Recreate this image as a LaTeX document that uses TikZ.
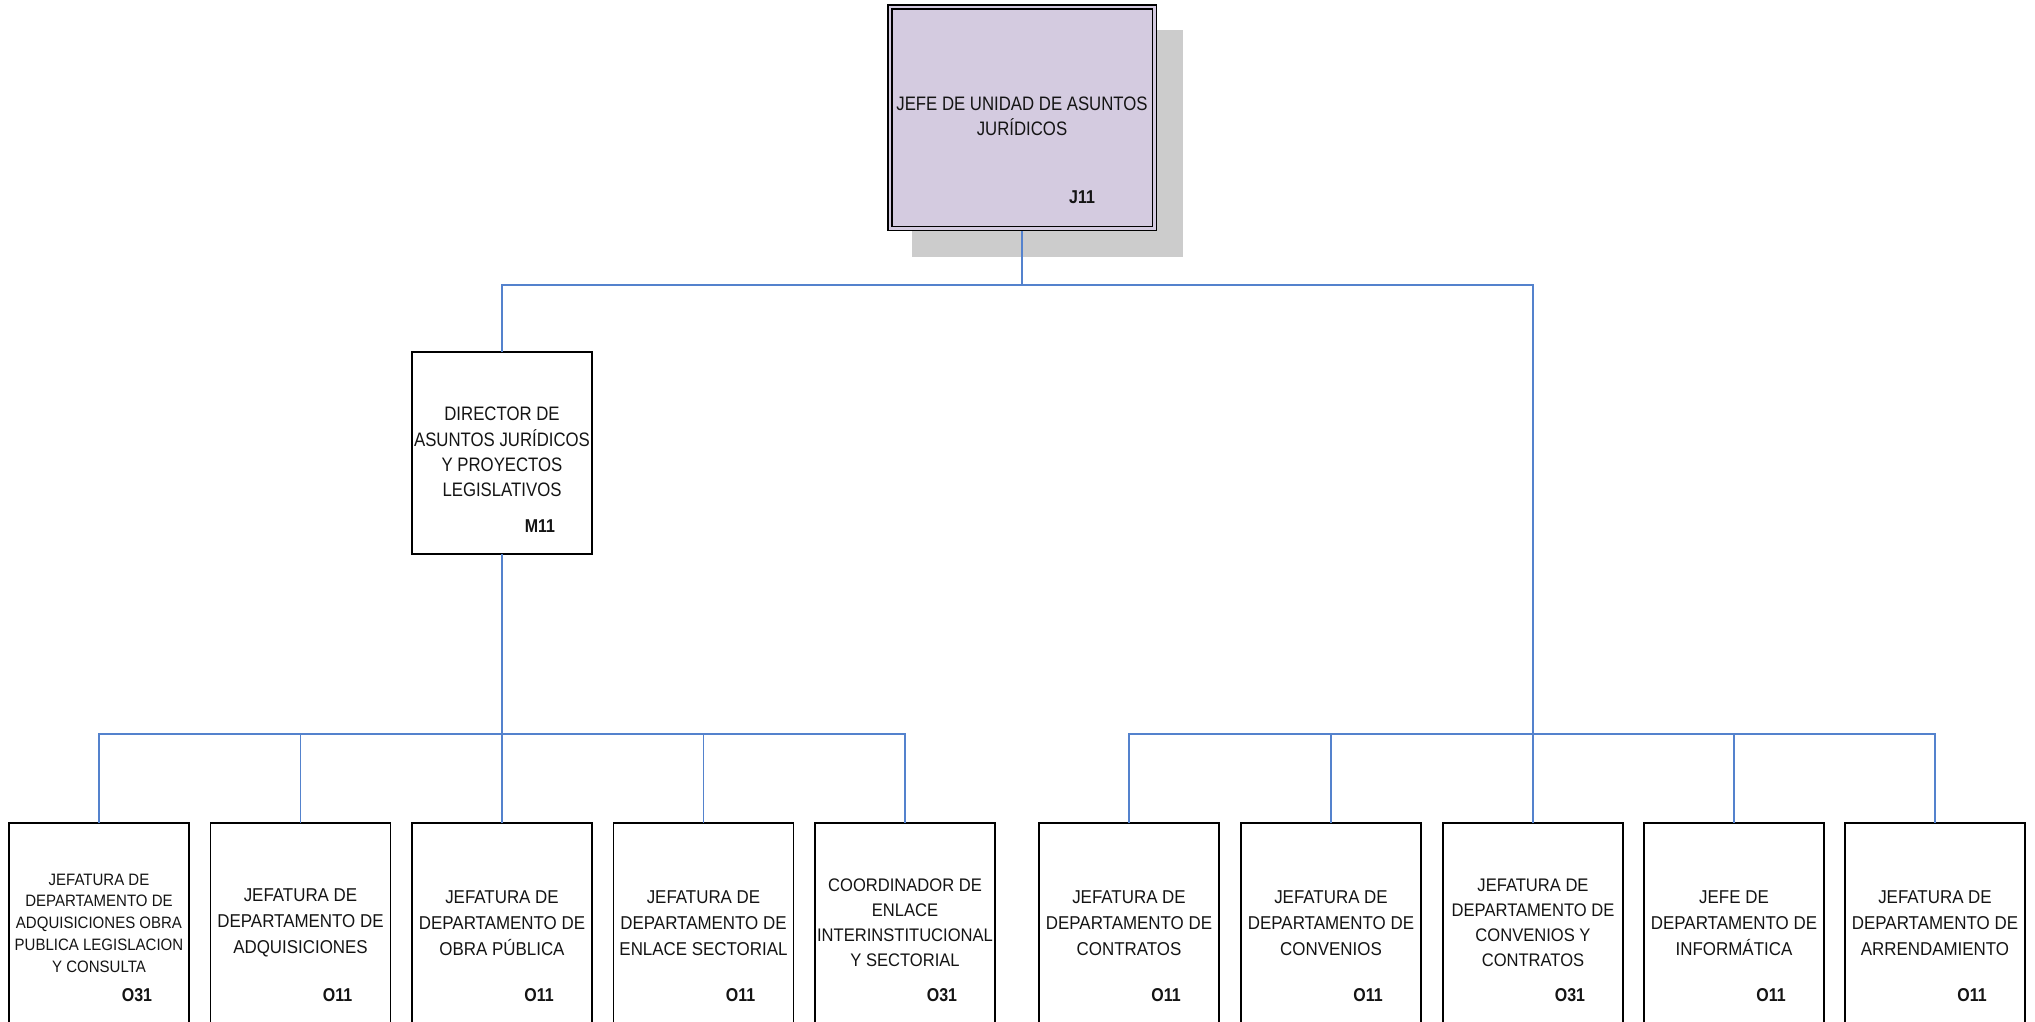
\documentclass[tikz,border=0pt]{standalone}
\usepackage{fontspec}
\setmainfont[FakeStretch=0.86]{Liberation Sans}
\newfontfamily\widefont[FakeStretch=0.91]{Liberation Sans}
\usetikzlibrary{shadows}
\definecolor{linkblue}{RGB}{84,130,205}
\definecolor{topfill}{RGB}{212,203,224}
\definecolor{shadowgray}{RGB}{204,204,204}
\definecolor{txt}{RGB}{20,20,20}
\begin{document}
\begin{tikzpicture}[x=1pt,y=-1pt,
  box/.style={draw=black, line width=1.8pt, fill=white, minimum width=180pt, minimum height=202pt, inner sep=0pt, outer sep=0pt},
  bbox/.style={box, minimum height=240pt, anchor=north},
  link/.style={draw=linkblue, line width=1.6pt},
  lbl/.style={align=center, inner sep=0pt, text=txt, font=\widefont\fontsize{18.6}{26}\selectfont},
  smalllbl/.style={lbl, font=\widefont\fontsize{16.5}{21.7}\selectfont},
  midlbl/.style={lbl, font=\widefont\fontsize{18.2}{25}\selectfont},
  biglbl/.style={lbl, font=\fontsize{19.5}{25.2}\selectfont},
  code/.style={inner sep=0pt, text=txt, font=\bfseries\fontsize{18.6}{22}\selectfont}]
\useasboundingbox (0,0) rectangle (2035,1021);
\clip (0,0) rectangle (2035,1021);
\fill[white] (0,0) rectangle (2035,1021);

% top box
\node[draw=black, line width=1.5pt, double=topfill, double distance=2.5pt, fill=topfill,
  minimum width=264.5pt, minimum height=221.5pt, inner sep=0pt, outer sep=2.75pt,
  drop shadow={shadow xshift=25pt, shadow yshift=-25pt, shadow scale=1.025, opacity=1, fill=shadowgray}]
  (top) at (1022,117.5) {};
\node[biglbl] (topt) at (1022,116) {JEFE DE UNIDAD DE ASUNTOS\\JURÍDICOS};
\node[code] (topc) at (1082,197) {J11};

% director
\node[box] (dir) at (502,453) {};
\node[biglbl] (dirt) at (502,452) {DIRECTOR DE\\ASUNTOS JURÍDICOS\\Y PROYECTOS\\LEGISLATIVOS};
\node[code] (dirc) at (540,526) {M11};

% bottom left group
\node[bbox] (L1) at (99,823) {};
\node[bbox] (L2) at (300.5,823) {};
\node[bbox] (L3) at (502,823) {};
\node[bbox] (L4) at (703.5,823) {};
\node[bbox] (L5) at (905,823) {};
% bottom right group
\node[bbox] (R1) at (1129,823) {};
\node[bbox] (R2) at (1331,823) {};
\node[bbox] (R3) at (1533,823) {};
\node[bbox] (R4) at (1734,823) {};
\node[bbox] (R5) at (1935,823) {};

\node[smalllbl] (L1t) at ([shift={(0,100)}]L1.north) {JEFATURA DE\\DEPARTAMENTO DE\\ADQUISICIONES OBRA\\PUBLICA LEGISLACION\\Y CONSULTA};
\node[lbl] (L2t) at ([shift={(0,100)}]L2.north) {JEFATURA DE\\DEPARTAMENTO DE\\ADQUISICIONES};
\node[lbl] (L3t) at ([shift={(0,100)}]L3.north) {JEFATURA DE\\DEPARTAMENTO DE\\OBRA PÚBLICA};
\node[lbl] (L4t) at ([shift={(0,100)}]L4.north) {JEFATURA DE\\DEPARTAMENTO DE\\ENLACE SECTORIAL};
\node[midlbl] (L5t) at ([shift={(0,99.5)}]L5.north) {COORDINADOR DE\\ENLACE\\INTERINSTITUCIONAL\\Y SECTORIAL};
\node[lbl] (R1t) at ([shift={(0,100)}]R1.north) {JEFATURA DE\\DEPARTAMENTO DE\\CONTRATOS};
\node[lbl] (R2t) at ([shift={(0,100)}]R2.north) {JEFATURA DE\\DEPARTAMENTO DE\\CONVENIOS};
\node[midlbl] (R3t) at ([shift={(0,99.5)}]R3.north) {JEFATURA DE\\DEPARTAMENTO DE\\CONVENIOS Y\\CONTRATOS};
\node[lbl] (R4t) at ([shift={(0,100)}]R4.north) {JEFE DE\\DEPARTAMENTO DE\\INFORMÁTICA};
\node[lbl] (R5t) at ([shift={(0,100)}]R5.north) {JEFATURA DE\\DEPARTAMENTO DE\\ARRENDAMIENTO};

\node[code] (L1c) at ([shift={(38,172)}]L1.north) {O31};
\node[code] (L2c) at ([shift={(37,172)}]L2.north) {O11};
\node[code] (L3c) at ([shift={(37,172)}]L3.north) {O11};
\node[code] (L4c) at ([shift={(37,172)}]L4.north) {O11};
\node[code] (L5c) at ([shift={(37,172)}]L5.north) {O31};
\node[code] (R1c) at ([shift={(37,172)}]R1.north) {O11};
\node[code] (R2c) at ([shift={(37,172)}]R2.north) {O11};
\node[code] (R3c) at ([shift={(37,172)}]R3.north) {O31};
\node[code] (R4c) at ([shift={(37,172)}]R4.north) {O11};
\node[code] (R5c) at ([shift={(37,172)}]R5.north) {O11};

% connectors
\coordinate (bus1) at (0,285);
\coordinate (bus2) at (0,734);
\draw[link] (top.south) -- (top.south |- bus1);
\draw[link] (dir.north) -- (dir.north |- bus1) -- (R3.north |- bus1) -- (R3.north);
\draw[link] (dir.south) -- (L3.north);
\draw[link] (L1.north) -- (L1.north |- bus2) -- (L5.north |- bus2) -- (L5.north);
\draw[link] (L2.north) -- (L2.north |- bus2);
\draw[link] (L4.north) -- (L4.north |- bus2);
\draw[link] (R1.north) -- (R1.north |- bus2) -- (R5.north |- bus2) -- (R5.north);
\draw[link] (R2.north) -- (R2.north |- bus2);
\draw[link] (R4.north) -- (R4.north |- bus2);
\end{tikzpicture}
\end{document}
